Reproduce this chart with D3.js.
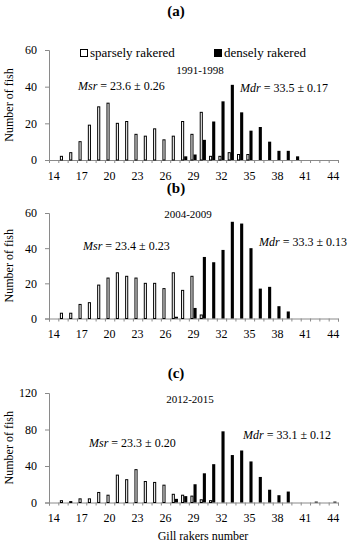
<!DOCTYPE html>
<html><head><meta charset="utf-8">
<script src="https://cdn.jsdelivr.net/npm/d3@7"></script>
<style>
body{margin:0;background:#fff;}
svg{display:block;font-family:"Liberation Serif","Times New Roman",serif;}
</style></head>
<body>
<svg id="chart" width="358" height="550"></svg>
<script>
const categories = [14,15,16,17,18,19,20,21,22,23,24,25,26,27,28,29,30,31,32,33,34,35,36,37,38,39,40,41,42,43,44];
const tickLabels = [14,17,20,23,26,29,32,35,38,41,44];

const sparseA = [0,2,4,10,19,29,31,20,21,14,13,17,11,13,21,14,26,2,2,4,3,3,0,0,0,0,0,0,0,0,0];
const denseA  = [0,0,0,0,0,0,0,0,0,0,0,0,0,0,2,3,11,21,32,41,26,16,18,10,5,5,2,0,0,0,0];
const sparseB = [0,3,3,8,9,19,23,26,24,23,20,20,17,26,16,24,2,0,0,0,0,0,0,0,0,0,0,0,0,0,0];
const denseB  = [0,0,0,0,0,0,0,0,0,0,0,0,0,1,0,6,35,32,39,55,54,40,17,18,7,4,0,0,0,0,0];
const sparseC = [0,2,1,4,4,11,8,30,25,36,23,22,19,9,8,7,3,2,0,0,0,0,0,0,0,0,0,0,0,0,0];
const denseC  = [0,0,0,0,0,0,0,0,0,0,0,0,0,4,7,20,32,42,78,52,57,45,28,14,8,12,0,0,1,0,1];

const yTicksA = [0,20,40,60];
const yTicksB = [0,20,40,60];
const yTicksC = [0,40,80,120];

const panels = [
  {label:"(a)", labelY:16, period:"1991-1998", periodX:200, periodY:74, top:50, bottom:160, yMax:60, yTicks:yTicksA, sparse:sparseA, dense:denseA,
   msr:"23.6 ± 0.26", msrX:78, msrY:90, mdr:"33.5 ± 0.17", mdrX:240, mdrY:92, legend:true},
  {label:"(b)", labelY:193, period:"2004-2009", periodX:188, periodY:218, top:213, bottom:318.5, yMax:60, yTicks:yTicksB, sparse:sparseB, dense:denseB,
   msr:"23.4 ± 0.23", msrX:83, msrY:250, mdr:"33.3 ± 0.13", mdrX:259, mdrY:246, legend:false},
  {label:"(c)", labelY:378, period:"2012-2015", periodX:190, periodY:403, top:393, bottom:502.5, yMax:120, yTicks:yTicksC, sparse:sparseC, dense:denseC,
   msr:"23.3 ± 0.20", msrX:89, msrY:447, mdr:"33.1 ± 0.12", mdrX:243, mdrY:439, legend:false, xTitle:true}
];

const svg = d3.select("#chart");
const x0 = 49, x1 = 338;
const axisColor = "#8a8a8a";

const x = d3.scaleBand().domain(categories).range([x0, x1]).paddingInner(0).paddingOuter(0);
const xSub = d3.scaleBand().domain(["s","d"]).range([0, x.bandwidth()]).paddingInner(0).paddingOuter(0.5);
const xLin = d3.scaleLinear().domain([13.5, 44.5]).range([x0, x1]);

panels.forEach(p => {
  const g = svg.append("g");
  const y = d3.scaleLinear().domain([0, p.yMax]).range([p.bottom, p.top]);

  g.append("text").attr("x", 176).attr("y", p.labelY).attr("text-anchor","middle")
    .attr("font-size", 15).attr("font-weight","bold").text(p.label);

  // y axis
  const ya = g.append("g").attr("transform", `translate(${x0},0)`)
    .call(d3.axisLeft(y).tickValues(p.yTicks).tickSize(4).tickPadding(8).tickFormat(d3.format("d")));
  ya.select(".domain").attr("stroke", axisColor);
  ya.selectAll(".tick line").attr("stroke", axisColor);
  ya.selectAll("text").attr("font-size", 12).attr("font-family","Liberation Serif").attr("fill","#000");

  // x axis: boundary ticks
  const boundaries = categories.map(c => c - 0.5).concat([categories[categories.length-1] + 0.5]);
  const xa = g.append("g").attr("transform", `translate(0,${p.bottom})`)
    .call(d3.axisBottom(xLin).tickValues(boundaries).tickSize(3).tickFormat(""));
  xa.select(".domain").attr("stroke", axisColor);
  xa.selectAll(".tick line").attr("stroke", axisColor);
  const xl = g.append("g").attr("transform", `translate(0,${p.bottom})`)
    .call(d3.axisBottom(x).tickValues(tickLabels).tickSize(0).tickPadding(11));
  xl.select(".domain").remove();
  xl.selectAll("text").attr("font-size", 12).attr("font-family","Liberation Serif").attr("fill","#000");

  // bars
  const rows = categories.map((c,i) => ({c, s:p.sparse[i], d:p.dense[i]}));
  g.selectAll(".sbar").data(rows.filter(r => r.s > 0)).join("rect")
    .attr("x", r => x(r.c) + xSub("s") + 0.5)
    .attr("y", r => y(r.s))
    .attr("width", xSub.bandwidth() - 1)
    .attr("height", r => p.bottom - y(r.s))
    .attr("fill", "#fff").attr("stroke", "#000").attr("stroke-width", 1);
  g.selectAll(".dbar").data(rows.filter(r => r.d > 0)).join("rect")
    .attr("x", r => x(r.c) + xSub("d"))
    .attr("y", r => y(r.d))
    .attr("width", xSub.bandwidth())
    .attr("height", r => p.bottom - y(r.d))
    .attr("fill", "#000");

  // y title
  const cy = (p.top + p.bottom) / 2;
  g.append("text").attr("transform", `translate(13,${cy}) rotate(-90)`).attr("text-anchor","middle")
    .attr("font-size", 12).text("Number of fish");

  // period
  g.append("text").attr("x", p.periodX).attr("y", p.periodY).attr("text-anchor","middle")
    .attr("font-size", 11).text(p.period);

  // annotations
  const t1 = g.append("text").attr("x", p.msrX).attr("y", p.msrY).attr("font-size", 12);
  t1.append("tspan").attr("font-style","italic").text("Msr");
  t1.append("tspan").text(" = " + p.msr);
  const t2 = g.append("text").attr("x", p.mdrX).attr("y", p.mdrY).attr("font-size", 12);
  t2.append("tspan").attr("font-style","italic").text("Mdr");
  t2.append("tspan").text(" = " + p.mdr);

  if (p.legend) {
    const lg = g.append("g");
    lg.append("rect").attr("x", 80.5).attr("y", 49.5).attr("width", 7).attr("height", 7)
      .attr("fill","#fff").attr("stroke","#000");
    lg.append("text").attr("x", 90).attr("y", 57).attr("font-size", 13).text("sparsely rakered");
    lg.append("rect").attr("x", 214).attr("y", 49).attr("width", 8).attr("height", 8).attr("fill","#000");
    lg.append("text").attr("x", 224).attr("y", 57).attr("font-size", 13).text("densely rakered");
  }

  if (p.xTitle) {
    g.append("text").attr("x", 203).attr("y", 540).attr("text-anchor","middle")
      .attr("font-size", 12).text("Gill rakers number");
  }
});
</script>
</body></html>
